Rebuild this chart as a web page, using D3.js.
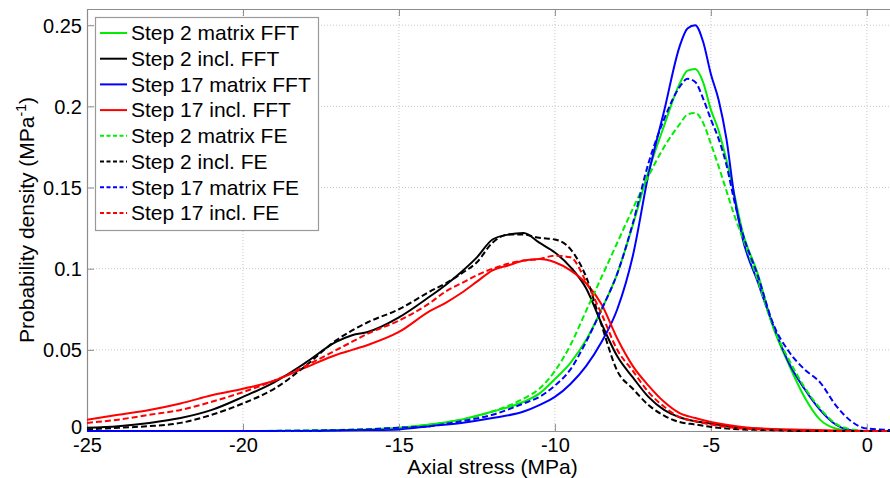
<!DOCTYPE html>
<html><head><meta charset="utf-8">
<script src="https://cdn.jsdelivr.net/npm/d3@7"></script>
<style>body{margin:0;background:#fff}svg{display:block}</style>
</head><body>
<svg id="chart" width="890" height="478"></svg>
<script>
const xTicks = [-25, -20, -15, -10, -5, 0];
const xTickLabels = ["-25", "-20", "-15", "-10", "-5", "0"];
const yTicks = [0, 0.05, 0.1, 0.15, 0.2, 0.25];
const yTickLabels = ["0", "0.05", "0.1", "0.15", "0.2", "0.25"];

const xIncl = [-25,-24,-23,-22,-21,-20,-19,-18,-17,-16.5,-16,-15,-14,-13.5,-13,-12.5,-12,-11.5,-11,-10.5,-10,-9.5,-9,-8.5,-8,-7.5,-7,-6.5,-6,-5.5,-5,-4,-3,-2,-1,0,1];
const incl2FFT  = [0.002,0.003,0.005,0.008,0.013,0.021,0.030,0.042,0.055,0.059,0.061,0.070,0.083,0.090,0.098,0.107,0.118,0.121,0.122,0.116,0.110,0.101,0.088,0.066,0.046,0.033,0.021,0.013,0.0085,0.006,0.0045,0.002,0.001,0.0003,0,0,0];
const incl17FFT = [0.007,0.010,0.013,0.017,0.022,0.026,0.031,0.039,0.047,0.050,0.053,0.061,0.074,0.079,0.085,0.092,0.099,0.102,0.105,0.106,0.104,0.099,0.091,0.078,0.057,0.040,0.028,0.018,0.011,0.008,0.0055,0.0025,0.0012,0.0008,0.0003,0,0];
const incl2FE   = [0.001,0.002,0.003,0.005,0.010,0.017,0.026,0.040,0.056,0.062,0.067,0.075,0.086,0.091,0.097,0.104,0.116,0.121,0.121,0.119,0.118,0.112,0.095,0.065,0.037,0.026,0.016,0.0095,0.0055,0.004,0.0025,0.001,0.0005,0,0,0,0];
const incl17FE  = [0.005,0.007,0.010,0.013,0.018,0.024,0.031,0.040,0.050,0.055,0.060,0.068,0.079,0.086,0.091,0.096,0.100,0.103,0.105,0.106,0.108,0.107,0.092,0.072,0.050,0.037,0.024,0.015,0.0085,0.006,0.004,0.0015,0.0008,0.0003,0,0,0];

const xMat = [-25,-20,-18,-17,-16,-15,-14,-13,-12,-11,-10.5,-10,-9.5,-9,-8.5,-8,-7.5,-7,-6.5,-6,-5.75,-5.5,-5.25,-5,-4.75,-4.5,-4.25,-4,-3.5,-3,-2.5,-2,-1.5,-1,-0.5,0,1];
const mat2FFT  = [0,0,0.0002,0.0005,0.001,0.002,0.004,0.007,0.012,0.018,0.023,0.032,0.042,0.056,0.075,0.097,0.127,0.160,0.188,0.214,0.222,0.223,0.215,0.198,0.185,0.167,0.146,0.124,0.097,0.064,0.041,0.021,0.007,0.0015,0,0,0];
const mat17FFT = [0,0,0,0.0003,0.0006,0.001,0.003,0.005,0.008,0.012,0.016,0.021,0.029,0.040,0.055,0.075,0.108,0.158,0.197,0.237,0.248,0.250,0.240,0.220,0.204,0.180,0.145,0.120,0.092,0.065,0.042,0.026,0.013,0.004,0.0005,0,0];
const mat2FE   = [0,0,0.0003,0.0006,0.0012,0.002,0.004,0.007,0.012,0.020,0.026,0.037,0.053,0.074,0.095,0.116,0.137,0.157,0.175,0.189,0.195,0.196,0.190,0.177,0.163,0.148,0.133,0.120,0.093,0.064,0.044,0.027,0.014,0.0045,0.001,0,0];
const mat17FE  = [0,0,0.0002,0.0005,0.001,0.002,0.003,0.006,0.010,0.017,0.021,0.028,0.038,0.055,0.075,0.097,0.128,0.165,0.192,0.212,0.217,0.215,0.205,0.192,0.180,0.164,0.142,0.123,0.096,0.066,0.049,0.038,0.030,0.016,0.006,0.0015,0.0005];

const seriesNames = ["Step 2 matrix FFT","Step 2 incl. FFT","Step 17 matrix FFT","Step 17 incl. FFT","Step 2 matrix FE","Step 2 incl. FE","Step 17 matrix FE","Step 17 incl. FE"];
const seriesColors = ["#00ee00","#000000","#0000ff","#ff0000","#00ee00","#000000","#0000ff","#ff0000"];
const seriesDashed = [false,false,false,false,true,true,true,true];
const seriesX = [xMat,xIncl,xMat,xIncl,xMat,xIncl,xMat,xIncl];
const seriesY = [mat2FFT,incl2FFT,mat17FFT,incl17FFT,mat2FE,incl2FE,mat17FE,incl17FE];

const svg = d3.select("#chart");
const L = 87, R = 898, T = 9, B = 431;
const x = d3.scaleLinear().domain([-25, 1]).range([L, R]);
const y = d3.scaleLinear().domain([0, 0.26]).range([B, T]);
const font = "'Liberation Sans', Arial, sans-serif";
const axisCol = "#8c8c8c";

// grid
const grid = svg.append("g");
xTicks.forEach(t => { if (t > -25) grid.append("line").attr("x1", x(t)).attr("x2", x(t)).attr("y1", T).attr("y2", B)
  .attr("stroke", "#c8c8c8").attr("stroke-width", 1).attr("stroke-dasharray", "1,2"); });
yTicks.forEach(t => { if (t > 0) grid.append("line").attr("x1", L).attr("x2", R).attr("y1", y(t)).attr("y2", y(t))
  .attr("stroke", "#c8c8c8").attr("stroke-width", 1).attr("stroke-dasharray", "1,2"); });

// axes
const xAxis = d3.axisBottom(x).tickValues(xTicks).tickSizeInner(-7).tickSizeOuter(0).tickPadding(7)
  .tickFormat((d, i) => xTickLabels[i]);
const gx = svg.append("g").attr("transform", `translate(0,${B})`).call(xAxis);
const xTop = d3.axisTop(x).tickValues(xTicks).tickSizeInner(-7).tickSizeOuter(0).tickFormat("");
const gxt = svg.append("g").attr("transform", `translate(0,${T})`).call(xTop);
const yAxis = d3.axisLeft(y).tickValues(yTicks).tickSizeInner(-7).tickSizeOuter(0).tickPadding(5)
  .tickFormat((d, i) => yTickLabels[i]);
const gy = svg.append("g").attr("transform", `translate(${L},0)`).call(yAxis);
[gx, gxt, gy].forEach(g => {
  g.select(".domain").attr("stroke", axisCol).attr("stroke-width", 1.2);
  g.selectAll(".tick line").attr("stroke", axisCol);
  g.selectAll(".tick text").attr("font-family", font).attr("font-size", 20).attr("fill", "#000");
});
gy.selectAll(".tick text").attr("dy", "0.35em");
gy.selectAll(".tick text").filter((d) => d === 0).attr("dy", "0.1em");

// curves
svg.append("clipPath").attr("id", "clip").append("rect").attr("x", L).attr("y", T).attr("width", R - L).attr("height", B - T + 1);
const curves = svg.append("g").attr("clip-path", "url(#clip)");
seriesNames.forEach((name, i) => {
  const pts = seriesX[i].map((xv, j) => [xv, seriesY[i][j]]);
  const line = d3.line().x(d => x(d[0])).y(d => y(d[1])).curve(d3.curveMonotoneX);
  curves.append("path").attr("d", line(pts)).attr("fill", "none")
    .attr("stroke", seriesColors[i]).attr("stroke-width", 2)
    .attr("stroke-dasharray", seriesDashed[i] ? "6,3" : null)
    .attr("stroke-linejoin", "round");
});

// labels
svg.append("text").attr("x", (L + R) / 2).attr("y", 474).attr("text-anchor", "middle")
  .attr("font-family", font).attr("font-size", 21).text("Axial stress (MPa)");
const yl = svg.append("text").attr("transform", `translate(34,${(T + B) / 2}) rotate(-90)`).attr("text-anchor", "middle")
  .attr("font-family", font).attr("font-size", 21);
yl.append("tspan").text("Probability density (MPa");
yl.append("tspan").attr("dy", -8).attr("font-size", 14).text("-1");
yl.append("tspan").attr("dy", 8).text(")");

// legend
const lg = svg.append("g");
lg.append("rect").attr("x", 95.5).attr("y", 17.5).attr("width", 223).attr("height", 213)
  .attr("fill", "#fff").attr("stroke", "#999").attr("stroke-width", 1.2);
seriesNames.forEach((name, i) => {
  const cy = 33 + i * 25.7;
  lg.append("line").attr("x1", 100).attr("x2", 127).attr("y1", cy).attr("y2", cy)
    .attr("stroke", seriesColors[i]).attr("stroke-width", 2)
    .attr("stroke-dasharray", seriesDashed[i] ? "4,2.5" : null);
  lg.append("text").attr("x", 131).attr("y", cy).attr("dy", "0.35em")
    .attr("font-family", font).attr("font-size", 21).text(name);
});
</script>
</body></html>
